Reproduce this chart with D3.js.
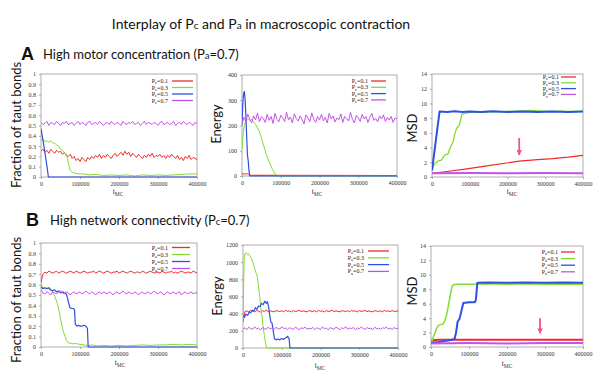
<!DOCTYPE html>
<html>
<head>
<meta charset="utf-8">
<script src="https://cdn.jsdelivr.net/npm/d3@7"></script>
<style>
  body { margin: 0; background: #fff; }
  svg { display: block; background: #fff; }
  .tick text { font-family: 'Liberation Serif', 'DejaVu Serif', serif; font-size: 6px; fill: #333; }
  .tick line { stroke: #777; stroke-width: 0.6; }
  .domain { display: none; }
  .frame { fill: none; stroke: #999; stroke-width: 0.8; }
  .ylab { font-family: Lato, 'Open Sans', sans-serif; font-size: 13px; fill: #111; }
  .xlab { font-family: 'Liberation Serif', serif; font-size: 7.5px; fill: #333; }
  .leg { font-family: 'Liberation Serif', serif; font-size: 6px; fill: #222; }
  .title { font-family: Lato, 'Open Sans', sans-serif; font-size: 14px; fill: #111; }
  .head { font-family: Lato, 'Open Sans', sans-serif; font-size: 13px; fill: #111; }
  .letter { font-family: 'Liberation Sans', Arial, sans-serif; font-size: 18px; font-weight: bold; fill: #111; }
</style>
</head>
<body>
<svg width="600" height="390"></svg>
<script>
var svg = d3.select('svg');

// ---- data (t in MC steps) ----
var tStep = 5000; // sampling step of the dense, noisy series
var xTicks = [0, 100000, 200000, 300000, 400000];
var fracTicks = [0, 0.1, 0.2, 0.3, 0.4, 0.5, 0.6, 0.7, 0.8, 0.9, 1];
var energyTicksA = [0, 100, 200, 300, 400];
var energyTicksB = [0, 200, 400, 600, 800, 1000, 1200];
var msdTicks = [0, 2, 4, 6, 8, 10, 12, 14];
var probLabels = ['0.1', '0.3', '0.5', '0.7'];

// A: high motor concentration, Pa = 0.7, varying Pc
var fracA_01 = [0.25,0.27,0.24,0.26,0.23,0.27,0.25,0.23,0.26,0.24,0.25,0.22,0.24,0.21,0.20,0.22,0.18,0.20,0.16,0.18,
  0.15,0.19,0.17,0.15,0.19,0.17,0.20,0.18,0.21,0.19,0.22,0.18,0.21,0.19,0.22,0.20,0.18,0.21,0.23,0.20,
  0.22,0.24,0.21,0.25,0.22,0.24,0.20,0.23,0.21,0.19,0.22,0.20,0.18,0.21,0.19,0.22,0.20,0.23,0.19,0.21,
  0.20,0.22,0.19,0.21,0.18,0.21,0.19,0.22,0.20,0.18,0.21,0.17,0.19,0.16,0.20,0.18,0.21,0.17,0.19,0.18,0.17];
var fracA_03 = [[0,0.37],[4000,0.35],[8000,0.36],[12000,0.34],[16000,0.35],[20000,0.34],[25000,0.35],[30000,0.33],
  [35000,0.33],[40000,0.31],[45000,0.30],[50000,0.27],[55000,0.26],[60000,0.24],[65000,0.22],[68000,0.18],
  [71000,0.12],[74000,0.07],[78000,0.05],[85000,0.04],[95000,0.03],[110000,0.03],[125000,0.02],[140000,0.025],
  [160000,0.015],[180000,0.02],[200000,0.015],[220000,0.02],[240000,0.01],[260000,0.02],[280000,0.015],
  [300000,0.02],[320000,0.015],[340000,0.02],[360000,0.025],[380000,0.03],[400000,0.03]];
var fracA_05 = [[0,0.47],[5000,0.36],[10000,0.24],[15000,0.11],[19000,0],[400000,0]];
var fracA_07 = [0.53,0.51,0.52,0.54,0.50,0.53,0.52,0.51,0.54,0.52,0.50,0.53,0.52,0.54,0.51,0.52,0.53,0.50,0.52,0.54,
  0.51,0.53,0.52,0.50,0.53,0.54,0.51,0.52,0.53,0.51,0.54,0.52,0.50,0.52,0.53,0.51,0.54,0.52,0.51,0.53,
  0.52,0.50,0.54,0.52,0.51,0.53,0.52,0.54,0.51,0.52,0.53,0.50,0.52,0.54,0.51,0.53,0.52,0.51,0.53,0.52,
  0.50,0.53,0.54,0.51,0.52,0.53,0.51,0.52,0.54,0.50,0.52,0.53,0.51,0.54,0.52,0.51,0.53,0.52,0.50,0.53,0.52];

var energyA_01 = [[0,9],[6000,8],[12000,9],[17000,8],[20000,3],[400000,2]];
var energyA_03 = [[0,105],[3000,170],[6000,200],[9000,215],[13000,222],[17000,226],[21000,218],[25000,224],
  [30000,215],[35000,205],[40000,190],[44000,178],[48000,162],[52000,140],[56000,120],[60000,100],[64000,80],
  [68000,64],[72000,50],[76000,35],[80000,22],[84000,12],[88000,5],[93000,0],[400000,0]];
var energyA_05 = [[0,200],[2000,285],[4000,325],[6000,335],[8000,305],[10000,240],[12000,160],[14000,85],
  [16000,60],[18000,22],[20000,0],[400000,0]];
var energyA_07 = [205,232,218,245,226,210,238,222,250,215,235,228,212,244,220,236,208,248,225,214,
  240,230,216,252,222,234,210,246,228,218,238,224,206,242,230,215,250,226,212,236,
  222,244,218,232,210,248,226,238,214,230,222,246,212,236,228,218,252,224,210,240,
  230,216,244,226,236,212,232,248,220,228,214,238,226,242,216,232,222,236,212,230,226];

var msdA_01 = [[0,0.5],[40000,0.75],[92000,1.1],[150000,1.55],[231000,2.15],[280000,2.35],[320000,2.5],[360000,2.7],[400000,2.95]];
var msdA_03 = [[0,0.9],[4000,1.5],[8000,1.9],[13000,2.0],[17000,2.2],[25000,2.3],[30000,2.7],[34000,3.0],[42000,3.1],
  [47000,3.8],[52000,4.4],[56000,4.8],[60000,5.8],[65000,6.6],[72000,7.0],[76000,7.8],[79000,8.5],[85000,8.6],
  [91000,8.7],[100000,8.8],[120000,8.85],[140000,8.8],[160000,8.9],[180000,8.85],[200000,8.9],[220000,8.95],
  [240000,9.0],[260000,9.05],[280000,9.0],[300000,8.95],[320000,8.9],[340000,8.95],[360000,8.9],[380000,8.9],[400000,8.95]];
var msdA_05 = [[0,0.9],[20000,8.9],[40000,8.85],[60000,8.95],[80000,8.85],[100000,8.9],[130000,8.85],[160000,8.95],
  [200000,8.85],[240000,8.9],[280000,8.85],[320000,8.9],[360000,8.85],[400000,8.9]];
var msdA_07 = [[0,0.5],[100000,0.55],[200000,0.5],[300000,0.55],[400000,0.5]];
var arrowA = [231000, 5.3, 3.0]; // t, MSD at tail, MSD at head

// B: high network connectivity, Pc = 0.7, varying Pa
var fracB_01 = [0.62,0.70,0.72,0.71,0.73,0.72,0.71,0.72,0.73,0.71,0.72,0.73,0.72,0.71,0.72,0.73,0.72,0.71,0.73,0.72,
  0.71,0.72,0.73,0.72,0.71,0.72,0.72,0.73,0.71,0.72,0.73,0.72,0.71,0.72,0.73,0.72,0.71,0.72,0.72,0.73,
  0.71,0.72,0.73,0.72,0.71,0.72,0.73,0.72,0.71,0.72,0.72,0.71,0.73,0.72,0.71,0.72,0.73,0.72,0.71,0.72,
  0.72,0.71,0.73,0.72,0.71,0.72,0.72,0.73,0.71,0.72,0.71,0.72,0.73,0.72,0.71,0.72,0.72,0.71,0.73,0.72,0.71];
var fracB_03 = [[0,0.61],[3000,0.58],[7000,0.57],[12000,0.56],[17000,0.57],[22000,0.55],[27000,0.54],[31000,0.52],
  [35000,0.49],[38000,0.46],[42000,0.42],[46000,0.35],[50000,0.27],[54000,0.2],[58000,0.14],[62000,0.1],
  [66000,0.06],[70000,0.04],[76000,0.035],[82000,0.03],[88000,0.035],[94000,0.03],[100000,0.025],[110000,0.02],
  [120000,0.015],[130000,0.02],[145000,0.01],[160000,0.015],[180000,0.01],[200000,0.015],[220000,0.01],
  [240000,0.015],[260000,0.02],[280000,0.015],[300000,0.02],[320000,0.02],[340000,0.025],[360000,0.02],
  [380000,0.025],[400000,0.02]];
var fracB_05 = [[0,0.58],[5000,0.56],[10000,0.57],[15000,0.56],[20000,0.57],[25000,0.55],[30000,0.54],[35000,0.55],
  [40000,0.53],[45000,0.54],[50000,0.52],[55000,0.53],[60000,0.52],[65000,0.51],[68000,0.47],[71000,0.42],
  [74000,0.38],[78000,0.37],[82000,0.37],[86000,0.36],[88000,0.22],[92000,0.2],[96000,0.21],[100000,0.2],
  [105000,0.2],[110000,0.21],[115000,0.2],[119000,0.18],[121000,0],[400000,0]];
var fracB_07 = [0.55,0.52,0.51,0.53,0.52,0.50,0.53,0.52,0.51,0.53,0.54,0.52,0.51,0.53,0.52,0.50,0.52,0.53,0.51,0.52,
  0.53,0.51,0.52,0.54,0.52,0.51,0.53,0.52,0.50,0.52,0.53,0.51,0.53,0.52,0.51,0.53,0.52,0.50,0.52,0.53,
  0.51,0.52,0.54,0.52,0.51,0.53,0.52,0.51,0.53,0.52,0.50,0.52,0.53,0.51,0.52,0.53,0.51,0.52,0.54,0.52,
  0.51,0.53,0.52,0.50,0.52,0.53,0.51,0.52,0.53,0.51,0.52,0.53,0.50,0.52,0.53,0.51,0.52,0.53,0.51,0.52,0.52];

var energyB_01 = [300,425,432,420,438,428,422,436,430,418,434,426,440,424,432,428,420,436,430,426,
  434,422,438,428,432,420,436,426,430,440,424,432,428,420,436,430,426,434,422,438,
  428,432,420,436,426,430,440,424,432,428,420,436,430,426,434,422,438,428,432,420,
  436,426,430,438,424,432,428,420,436,430,426,434,422,438,428,432,424,436,426,430,428];
var energyB_03 = [[0,300],[1500,700],[3000,1050],[5000,1100],[8000,1110],[11000,1090],[14000,1100],[18000,1070],
  [22000,1040],[26000,990],[30000,930],[34000,870],[37000,830],[40000,720],[43000,600],[46000,470],[49000,370],
  [52000,250],[55000,150],[58000,60],[61000,0],[400000,0]];
var energyB_05 = [[0,380],[4000,360],[8000,395],[12000,380],[16000,420],[20000,410],[24000,440],[28000,430],
  [32000,470],[36000,450],[40000,490],[44000,480],[48000,520],[52000,505],[56000,545],[60000,520],[63000,540],
  [66000,480],[69000,380],[72000,300],[75000,290],[78000,200],[81000,110],[85000,95],[90000,105],[95000,95],
  [100000,110],[105000,100],[110000,120],[115000,135],[119000,110],[121000,0],[400000,0]];
var energyB_07 = [222,236,214,242,226,218,246,224,232,210,238,228,216,244,222,234,212,240,228,220,
  248,226,232,214,238,224,218,242,230,212,236,226,244,218,230,222,240,214,234,228,
  216,246,224,232,212,238,226,220,242,228,214,236,224,250,218,232,226,240,212,234,
  222,244,228,216,238,226,232,214,242,224,230,218,236,228,244,220,232,216,238,226,230];

var msdB_01 = [[0,0.9],[20000,1.0],[100000,1.0],[200000,1.0],[300000,1.02],[400000,1.02]];
var msdB_03 = [[0,0.5],[5000,1.2],[10000,1.9],[15000,2.6],[19000,3.0],[25000,3.1],[32000,3.2],[36000,3.6],
  [40000,4.2],[45000,5.5],[50000,7.0],[55000,8.3],[58000,8.6],[65000,8.7],[100000,8.7],[150000,8.75],
  [200000,8.7],[250000,8.75],[300000,8.7],[350000,8.7],[400000,8.7]];
var msdB_05 = [[0,0.6],[20000,0.7],[40000,0.85],[55000,1.0],[62000,1.1],[66000,2.0],[70000,3.5],[75000,3.9],
  [80000,5.0],[85000,6.1],[100000,6.2],[115000,6.2],[118000,6.5],[122000,8.9],[150000,8.95],[200000,8.9],
  [250000,8.95],[300000,8.9],[350000,8.95],[400000,8.9]];
var msdB_07 = [[0,0.5],[100000,0.55],[200000,0.5],[300000,0.55],[400000,0.55]];
var arrowB = [287000, 4.0, 1.9];

// ---- styles ----
var colors = ['#ee2a2a', '#82dc30', '#2f50e4', '#c454e8'];
var arrowColor = '#f2508e';

// dense series are stored as values on the tStep grid
var onGrid = function(vals){
  return vals.map(function(v, i){ return [i * tStep, v]; });
};

// ---- panel layout (plot boxes in px) ----
var panels = [
  {box: [41, 197, 74, 177], yMax: 1, yTicks: fracTicks, sub: 'c',
   series: [onGrid(fracA_01), fracA_03, fracA_05, onGrid(fracA_07)], widths: [1, 1, 1.2, 1],
   ylab: 'Fraction of taut bonds', ylabPos: [21, 125], xlabPos: [118, 194],
   leg: [168, 172, 193, 81, 6.5]},
  {box: [242, 397, 75, 176], yMax: 400, yTicks: energyTicksA, sub: 'c',
   series: [energyA_01, energyA_03, energyA_05, onGrid(energyA_07)], widths: [1, 1, 1.2, 1],
   ylab: 'Energy', ylabPos: [221, 124], xlabPos: [317, 194],
   leg: [368, 371, 386, 81, 6.3]},
  {box: [432, 583, 74, 177], yMax: 14, yTicks: msdTicks, sub: 'c',
   series: [msdA_01, msdA_03, msdA_05, msdA_07], widths: [1.2, 1.3, 2, 2],
   ylab: 'MSD', ylabPos: [417, 128], xlabPos: [512, 194],
   leg: [559, 561, 576, 77, 5.8], arrow: arrowA},
  {box: [41, 197, 243, 347], yMax: 1, yTicks: fracTicks, sub: 'a',
   series: [onGrid(fracB_01), fracB_03, fracB_05, onGrid(fracB_07)], widths: [1, 1, 1.2, 1],
   ylab: 'Fraction of taut bonds', ylabPos: [21, 300], xlabPos: [120, 365],
   leg: [168, 172, 190, 247.5, 7]},
  {box: [243, 398, 245, 348], yMax: 1200, yTicks: energyTicksB, sub: 'a',
   series: [onGrid(energyB_01), energyB_03, energyB_05, onGrid(energyB_07)], widths: [1, 1, 1.2, 1],
   ylab: 'Energy', ylabPos: [222, 296], xlabPos: [320, 368],
   leg: [364, 368, 389, 251, 6.8]},
  {box: [431, 583, 246, 347], yMax: 14, yTicks: msdTicks, sub: 'a',
   series: [msdB_01, msdB_03, msdB_05, msdB_07], widths: [2, 1.5, 2, 2],
   ylab: 'MSD', ylabPos: [417, 291], xlabPos: [507, 366],
   leg: [558, 561, 575, 252, 6.6], arrow: arrowB}
];

// arrow head marker
svg.append('defs').append('marker')
    .attr('id', 'head')
    .attr('viewBox', '0 0 10 10')
    .attr('refX', 9).attr('refY', 5)
    .attr('markerWidth', 3).attr('markerHeight', 3)
    .attr('orient', 'auto')
  .append('path')
    .attr('d', 'M0,0 L10,5 L0,10 z')
    .attr('fill', arrowColor);

var draw_panel = function(p, k){
  var x = d3.scaleLinear().domain([0, 400000]).range([p.box[0], p.box[1]]);
  var y = d3.scaleLinear().domain([0, p.yMax]).range([p.box[3], p.box[2]]);
  var g = svg.append('g');

  g.append('clipPath').attr('id', 'clip' + k)
    .append('rect')
      .attr('x', p.box[0]).attr('y', p.box[2] - 1)
      .attr('width', p.box[1] - p.box[0]).attr('height', p.box[3] - p.box[2] + 2);

  g.append('g')
      .attr('transform', 'translate(0,' + p.box[3] + ')')
      .call(d3.axisBottom(x).tickValues(xTicks).tickSize(2).tickPadding(3).tickFormat(d3.format('d')));

  g.append('g')
      .attr('transform', 'translate(' + p.box[0] + ',0)')
      .call(d3.axisLeft(y).tickValues(p.yTicks).tickSize(2).tickPadding(3).tickFormat(d3.format('')));

  g.append('rect').attr('class', 'frame')
      .attr('x', p.box[0]).attr('y', p.box[2])
      .attr('width', p.box[1] - p.box[0]).attr('height', p.box[3] - p.box[2]);

  var line = d3.line()
      .x(function(d){ return x(d[0]); })
      .y(function(d){ return y(d[1]); });

  var lines = g.append('g').attr('clip-path', 'url(#clip' + k + ')');
  p.series.forEach(function(s, i){
    lines.append('path')
        .datum(s)
        .attr('fill', 'none')
        .attr('stroke', colors[i])
        .attr('stroke-width', p.widths[i])
        .attr('stroke-linejoin', 'round')
        .attr('d', line);
  });

  // legend
  probLabels.forEach(function(lab, i){
    var ry = p.leg[3] + i * p.leg[4];
    var t = g.append('text').attr('class', 'leg')
        .attr('x', p.leg[0]).attr('y', ry + 2)
        .attr('text-anchor', 'end');
    t.append('tspan').text('P');
    t.append('tspan').attr('dy', 1.3).style('font-size', '4.5px').text(p.sub);
    t.append('tspan').attr('dy', -1.3).text('=' + lab);
    g.append('line')
        .attr('x1', p.leg[1]).attr('x2', p.leg[2])
        .attr('y1', ry).attr('y2', ry)
        .attr('stroke', colors[i]).attr('stroke-width', 1.3);
  });

  // axis titles
  g.append('text').attr('class', 'ylab')
      .attr('text-anchor', 'middle')
      .attr('transform', 'translate(' + p.ylabPos[0] + ',' + p.ylabPos[1] + ') rotate(-90)')
      .text(p.ylab);

  var xl = g.append('text').attr('class', 'xlab')
      .attr('x', p.xlabPos[0]).attr('y', p.xlabPos[1])
      .attr('text-anchor', 'middle');
  xl.append('tspan').text('t');
  xl.append('tspan').attr('dy', 2).style('font-size', '5.5px').text('MC');

  if (p.arrow) {
    g.append('line')
        .attr('x1', x(p.arrow[0])).attr('x2', x(p.arrow[0]))
        .attr('y1', y(p.arrow[1])).attr('y2', y(p.arrow[2]))
        .attr('stroke', arrowColor).attr('stroke-width', 1.8)
        .attr('marker-end', 'url(#head)');
  }
};

panels.forEach(draw_panel);

// ---- headings ----
var title = svg.append('text').attr('class', 'title')
    .attr('x', 261).attr('y', 29).attr('text-anchor', 'middle');
title.append('tspan').text('Interplay of P');
title.append('tspan').style('font-size', '10px').text('c');
title.append('tspan').text(' and P');
title.append('tspan').style('font-size', '10px').text('a');
title.append('tspan').text(' in macroscopic contraction');

svg.append('text').attr('class', 'letter').attr('x', 21).attr('y', 60).text('A');
var hA = svg.append('text').attr('class', 'head').attr('x', 43).attr('y', 59);
hA.append('tspan').text('High motor concentration (P');
hA.append('tspan').style('font-size', '9.5px').text('a');
hA.append('tspan').text('=0.7)');

svg.append('text').attr('class', 'letter').attr('x', 26).attr('y', 226).text('B');
var hB = svg.append('text').attr('class', 'head').attr('x', 50).attr('y', 225);
hB.append('tspan').text('High network connectivity (P');
hB.append('tspan').style('font-size', '9.5px').text('c');
hB.append('tspan').text('=0.7)');
</script>
</body>
</html>
